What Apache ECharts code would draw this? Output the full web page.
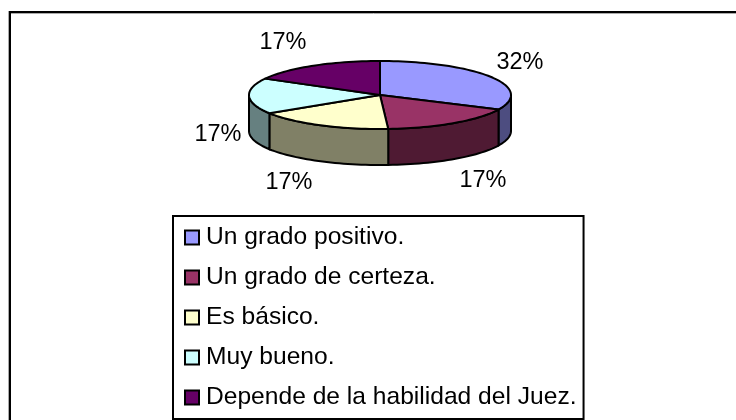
<!DOCTYPE html>
<html><head><meta charset="utf-8">
<style>html,body{margin:0;padding:0;background:#fff}#c{width:736px;height:420px}</style>
<script src="https://cdn.jsdelivr.net/npm/echarts@6/dist/echarts.min.js"></script>
</head><body><div id="c"></div>
<script>
const categories = ['Un grado positivo.', 'Un grado de certeza.', 'Es básico.', 'Muy bueno.', 'Depende de la habilidad del Juez.'];
const percentValues = [32, 17, 17, 17, 17];

const faceColors = ['#9999ff', '#993366', '#ffffcc', '#ccffff', '#660066'];
const wallColors = ['#4d4d80', '#4f1a33', '#808066', '#668080', '#330033'];
const labelCenters = [[520, 63], [483, 181], [289, 183], [218, 135], [283, 43]];
const CX = 380, CY = 95, RX = 131, RY = 34, DEPTH = 36;
const FONT = '"Liberation Sans", Arial, sans-serif';

const total = percentValues.reduce((a, b) => a + b, 0);
const pt = (deg, dy) => {
  const r = deg * Math.PI / 180;
  return [CX + RX * Math.sin(r), CY - RY * Math.cos(r) + (dy || 0)];
};
const arc = (a, b, dy) => {
  const n = Math.max(2, Math.ceil(Math.abs(b - a) / 2)), out = [];
  for (let i = 0; i <= n; i++) out.push(pt(a + (b - a) * i / n, dy));
  return out;
};

let running = 0;
const series = categories.map((name, i) => {
  const start = running;
  running += percentValues[i];
  return {
    type: 'custom', name, coordinateSystem: 'none', silent: true, animation: false,
    clip: false,
    itemStyle: { color: faceColors[i], borderColor: '#000', borderWidth: 2 },
    data: [[percentValues[i], start]],
    renderItem(params, api) {
      const a0 = api.value(1) / total * 360;
      const a1 = (api.value(1) + api.value(0)) / total * 360;
      const children = [];
      const w0 = Math.max(a0, 90), w1 = Math.min(a1, 270);
      if (w1 > w0) {
        const top = arc(w0, w1, 0), bottom = arc(w1, w0, DEPTH);
        children.push({ type: 'polygon', z2: 1,
          shape: { points: top.concat(bottom) },
          style: { fill: wallColors[i], stroke: '#000', lineWidth: 2 } });
      }
      children.push({ type: 'polygon', z2: 2,
        shape: { points: [[CX, CY]].concat(arc(a0, a1, 0)) },
        style: { fill: faceColors[i], stroke: '#000', lineWidth: 2, lineJoin: 'round' } });
      children.push({ type: 'text', z2: 3,
        x: labelCenters[i][0], y: labelCenters[i][1],
        style: { text: api.value(0) + '%', font: '23.5px ' + FONT, fill: '#000',
          align: 'center', verticalAlign: 'middle' } });
      return { type: 'group', children };
    }
  };
});

const chart = echarts.init(document.getElementById('c'), null, { renderer: 'canvas' });
chart.setOption({
  backgroundColor: '#fff',
  animation: false,
  graphic: [
    { type: 'rect', silent: true, z: -1,
      shape: { x: 10, y: 12, width: 800, height: 500 },
      style: { fill: '#fff', stroke: '#000', lineWidth: 2 } },
    { type: 'line', silent: true, z: -1, shape: { x1: 8.5, y1: 11, x2: 8.5, y2: 420 },
      style: { stroke: '#aaa', lineWidth: 1 } },
    { type: 'line', silent: true, z: -1, shape: { x1: 11, y1: 13.5, x2: 736, y2: 13.5 },
      style: { stroke: '#aaa', lineWidth: 1 } }
  ],
  legend: {
    orient: 'vertical', left: 173, top: 216, height: 500, width: 600, selectedMode: false,
    data: categories, icon: 'rect',
    backgroundColor: '#fff', borderColor: '#000', borderWidth: 2,
    padding: [9, 7, 9, 11], itemGap: 15, itemWidth: 14, itemHeight: 14,
    itemStyle: { borderColor: '#000', borderWidth: 2 },
    textStyle: { fontFamily: FONT, fontSize: 24.6, color: '#000', padding: [0, 0, 0, 2] }
  },
  series
});
</script></body></html>
